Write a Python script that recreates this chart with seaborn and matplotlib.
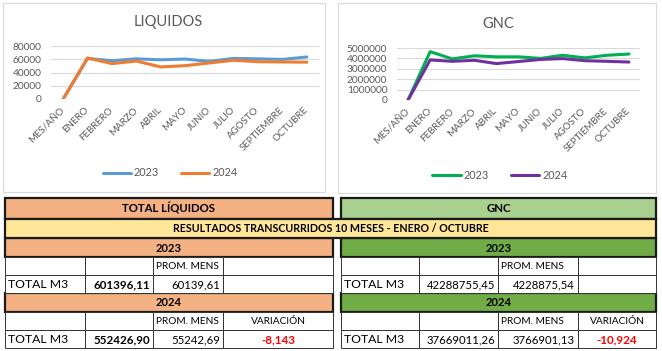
import numpy as np
import pandas as pd
import matplotlib
matplotlib.use('Agg')
import matplotlib.pyplot as plt
import seaborn as sns
from matplotlib.patches import Rectangle

# data
meses = ['MES/AÑO', 'ENERO', 'FEBRERO', 'MARZO', 'ABRIL', 'MAYO', 'JUNIO',
         'JULIO', 'AGOSTO', 'SEPTIEMBRE', 'OCTUBRE']
liq_2023 = [0, 61200, 57800, 60600, 59200, 60300, 56800, 61300, 60600, 59800, 63400]
liq_2024 = [0, 62000, 53400, 57300, 48400, 50300, 54400, 58500, 56300, 55900, 55600]
gnc_2023 = [0, 4650000, 3950000, 4250000, 4150000, 4150000, 4000000, 4300000, 4050000, 4300000, 4420000]
gnc_2024 = [0, 3850000, 3720000, 3820000, 3500000, 3700000, 3900000, 3980000, 3780000, 3720000, 3650000]

liq_ticks = [0, 20000, 40000, 60000, 80000]
gnc_ticks = [0, 1000000, 2000000, 3000000, 4000000, 5000000]

# table texts
liq_tot_2023 = '601396,11'
liq_prom_2023 = '60139,61'
liq_tot_2024 = '552426,90'
liq_prom_2024 = '55242,69'
liq_var = '-8,143'
gnc_tot_2023 = '42288755,45'
gnc_prom_2023 = '4228875,54'
gnc_tot_2024 = '37669011,26'
gnc_prom_2024 = '3766901,13'
gnc_var = '-10,924'

sns.set_style('white')
plt.rcParams['font.family'] = ['Lato', 'DejaVu Sans']

W, H = 662, 351
fig = plt.figure(figsize=(W / 100, H / 100), dpi=100)

bg = fig.add_axes([0, 0, 1, 1])
bg.set_xlim(0, W)
bg.set_ylim(H, 0)
bg.axis('off')


def px_axes(x0, y0, x1, y1):
    return fig.add_axes([x0 / W, 1 - y1 / H, (x1 - x0) / W, (y1 - y0) / H])


gray = '#595959'

# chart frames
bg.add_patch(Rectangle((3, 3), 322, 189, fill=False, ec='#D9D9D9', lw=0.8))
bg.add_patch(Rectangle((338, 3), 318, 190, fill=False, ec='#D9D9D9', lw=0.8))


def line_chart(rect, v23, v24, c23, c24, ticks, title, title_xy, leg_xy, pad):
    ax = px_axes(*rect)
    ax.set_facecolor('none')
    df = pd.DataFrame({'mes': meses * 2,
                       'valor': v23 + v24,
                       'año': ['2023'] * len(meses) + ['2024'] * len(meses)})
    df['pos'] = list(range(len(meses))) * 2
    sns.lineplot(data=df, x='pos', y='valor', hue='año', sort=False,
                 palette={'2023': c23, '2024': c24}, linewidth=2.2, ax=ax, legend=False)
    ax.set_xlim(-0.5, len(meses) - 0.5)
    ax.set_ylim(ticks[0], ticks[-1])
    ax.set_yticks(ticks)
    ax.set_yticklabels([str(t) for t in ticks], color=gray, fontsize=7.3)
    ax.set_xticks(range(len(meses)))
    ax.set_xticklabels(meses, rotation=45, ha='right', va='center',
                       rotation_mode='anchor', color=gray, fontsize=7)
    ax.tick_params(axis='y', length=0, pad=pad)
    ax.tick_params(axis='x', length=0, pad=7)
    ax.grid(axis='y', color='#D9D9D9', lw=0.8)
    ax.set_axisbelow(True)
    for s in ax.spines.values():
        s.set_visible(False)
    ax.set_xlabel('')
    ax.set_ylabel('')
    fig.text(title_xy[0] / W, 1 - title_xy[1] / H, title, ha='center', va='center',
             fontsize=10.5, color=gray)
    h1, = ax.plot([], [], color=c23, lw=2.2)
    h2, = ax.plot([], [], color=c24, lw=2.2)
    ax.legend([h1, h2], ['2023', '2024'], loc='center', ncol=2, frameon=False,
              bbox_to_anchor=(leg_xy[0] / W, 1 - leg_xy[1] / H),
              bbox_transform=fig.transFigure, fontsize=7.8, handlelength=2.6,
              columnspacing=2.0, handletextpad=0.3, labelcolor=gray)
    return ax


line_chart((51, 46, 319, 99), liq_2023, liq_2024, '#5B9BD5', '#ED7D31',
           liq_ticks, 'LIQUIDOS', (168, 22), (170, 173), 7)
line_chart((397, 48, 640, 100), gnc_2023, gnc_2024, '#00B050', '#7030A0',
           gnc_ticks, 'GNC', (498, 24), (500, 175), 7)

# tables
rows = [198, 219, 238, 257, 275, 293, 312, 330, 348]


def band(x0, x1, r, color, text, fs=8):
    y0, y1 = rows[r], rows[r + 1]
    bg.add_patch(Rectangle((x0, y0), x1 - x0, y1 - y0, fc=color, ec='#1a1a1a', lw=1.6))
    if text:
        bg.text((x0 + x1) / 2, (y0 + y1) / 2 + 0.5, text, ha='center', va='center',
                fontsize=fs, fontweight='bold', color='black')


def cells(cols, r, texts):
    y0, y1 = rows[r], rows[r + 1]
    ym = (y0 + y1) / 2 + 0.5
    for i in range(4):
        bg.add_patch(Rectangle((cols[i], y0), cols[i + 1] - cols[i], y1 - y0,
                               fc='white', ec='#333333', lw=0.7))
    for i, t in enumerate(texts):
        if not t:
            continue
        txt, kind = t
        x0, x1 = cols[i], cols[i + 1]
        if kind == 'left':
            bg.text(x0 + 3, ym, txt, ha='left', va='center', fontsize=8.8, color='black')
        elif kind == 'num':
            bg.text(x1 - 3, ym, txt, ha='right', va='center', fontsize=8.2, color='black')
        elif kind == 'bnum':
            bg.text(x1 - 3, ym, txt, ha='right', va='center', fontsize=8.4,
                    fontweight='bold', color='black')
        elif kind == 'small':
            bg.text(x0 + 3, ym, txt, ha='left', va='center', fontsize=7.3, color='black')
        elif kind == 'csmall':
            bg.text((x0 + x1) / 2, ym, txt, ha='center', va='center', fontsize=7.3, color='black')
        elif kind == 'red':
            bg.text((x0 + x1) / 2, ym, txt, ha='center', va='center', fontsize=8.4,
                    fontweight='bold', color='#FF0000')


lcols = [5, 85, 153, 223, 333]
rcols = [341, 419, 498, 578, 656]

band(lcols[0], lcols[-1], 0, '#F4B183', 'TOTAL LÍQUIDOS', fs=8.2)
band(rcols[0], rcols[-1], 0, '#A9D08E', 'GNC', fs=8.2)
band(lcols[0], lcols[-1], 2, '#F4B183', '2023')
band(rcols[0], rcols[-1], 2, '#70AD47', '2023')
band(lcols[0], lcols[-1], 5, '#F4B183', '2024')
band(rcols[0], rcols[-1], 5, '#70AD47', '2024')
band(lcols[0], rcols[-1], 1, '#FFE699',
     'RESULTADOS TRANSCURRIDOS 10 MESES - ENERO / OCTUBRE', fs=7.7)

cells(lcols, 3, [None, None, ('PROM. MENS', 'small'), None])
cells(lcols, 4, [('TOTAL M3', 'left'), (liq_tot_2023, 'bnum'), (liq_prom_2023, 'num'), None])
cells(lcols, 6, [None, None, ('PROM. MENS', 'small'), ('VARIACIÓN', 'csmall')])
cells(lcols, 7, [('TOTAL M3', 'left'), (liq_tot_2024, 'bnum'), (liq_prom_2024, 'num'), (liq_var, 'red')])

cells(rcols, 3, [None, None, ('PROM. MENS', 'small'), None])
cells(rcols, 4, [('TOTAL M3', 'left'), (gnc_tot_2023, 'num'), (gnc_prom_2023, 'num'), None])
cells(rcols, 6, [None, None, ('PROM. MENS', 'small'), ('VARIACIÓN', 'csmall')])
cells(rcols, 7, [('TOTAL M3', 'left'), (gnc_tot_2024, 'num'), (gnc_prom_2024, 'num'), (gnc_var, 'red')])

fig.savefig('out.png', dpi=100)
